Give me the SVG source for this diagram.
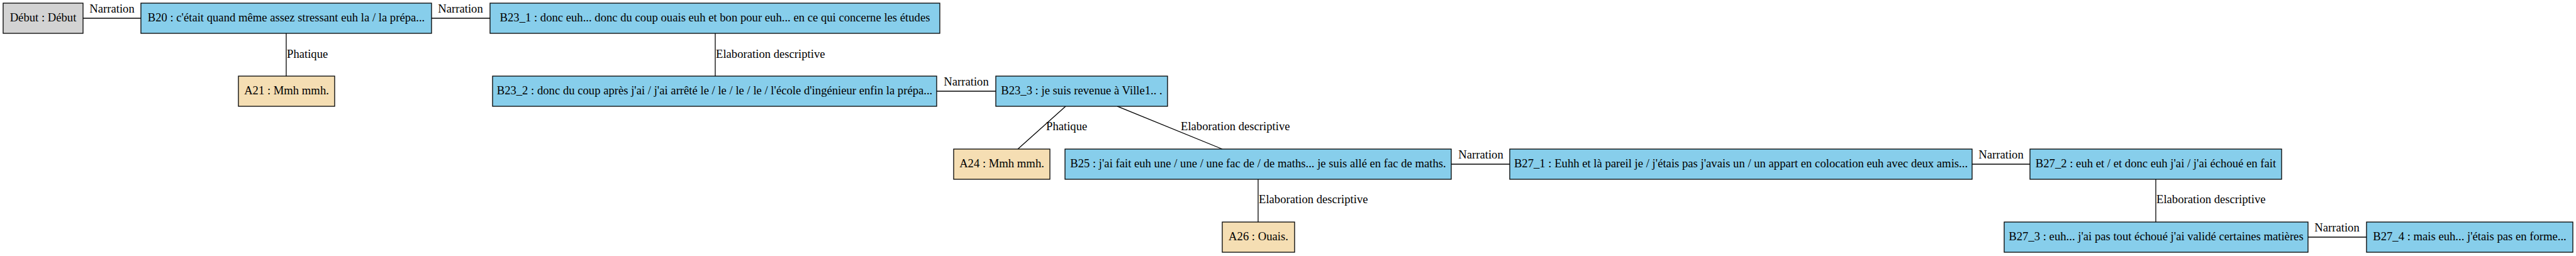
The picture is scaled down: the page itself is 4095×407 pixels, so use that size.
<svg xmlns="http://www.w3.org/2000/svg" width="4095" height="407" viewBox="0 0 4095 407">
<style>
text{font-family:"Liberation Serif","Times New Roman",serif;font-size:18.67px;fill:#000}
.n rect{stroke:#000;stroke-width:1.3}
.n text{text-anchor:middle}
.b rect{fill:#87ceeb}
.a rect{fill:#f5deb3}
.g rect{fill:#d3d3d3}
.e line{stroke:#000;stroke-width:1.3}
.lm{text-anchor:middle}
</style>
<rect width="4095" height="407" fill="#fff"/>
<g id="connectors" class="e">
<line x1="132" y1="29" x2="224" y2="29"/>
<line x1="686" y1="29" x2="779" y2="29"/>
<line x1="455" y1="53" x2="455" y2="121"/>
<line x1="1137" y1="53" x2="1137" y2="121"/>
<line x1="1489" y1="145" x2="1583" y2="145"/>
<line x1="1694" y1="169" x2="1618" y2="237"/>
<line x1="1776" y1="169" x2="1943" y2="237"/>
<line x1="2307" y1="261" x2="2400" y2="261"/>
<line x1="2000" y1="285" x2="2000" y2="353"/>
<line x1="3135" y1="261" x2="3227" y2="261"/>
<line x1="3427" y1="285" x2="3427" y2="353"/>
<line x1="3669" y1="377" x2="3762" y2="377"/>
<text class="lm" x="178" y="20">Narration</text>
<text class="lm" x="732" y="20">Narration</text>
<text x="456" y="92">Phatique</text>
<text x="1138" y="92">Elaboration descriptive</text>
<text class="lm" x="1536" y="136">Narration</text>
<text x="1663" y="207">Phatique</text>
<text x="1877" y="207">Elaboration descriptive</text>
<text class="lm" x="2354" y="252">Narration</text>
<text x="2001" y="323">Elaboration descriptive</text>
<text class="lm" x="3181" y="252">Narration</text>
<text x="3428" y="323">Elaboration descriptive</text>
<text class="lm" x="3715" y="368">Narration</text>
</g>
<g id="debut" class="n g"><rect x="5" y="5" width="127" height="48"/><text x="68.5" y="34">Début : Début</text></g>
<g id="B20" class="n b"><rect x="224" y="5" width="462" height="48"/><text x="455" y="34">B20 : c'était quand même assez stressant euh la / la prépa...</text></g>
<g id="B23_1" class="n b"><rect x="779" y="5" width="715" height="48"/><text x="1136.5" y="34">B23_1 : donc euh... donc du coup ouais euh et bon pour euh... en ce qui concerne les études</text></g>
<g id="A21" class="n a"><rect x="379" y="121" width="153" height="48"/><text x="455.5" y="150">A21 : Mmh mmh.</text></g>
<g id="B23_2" class="n b"><rect x="783" y="121" width="706" height="48"/><text x="1136" y="150">B23_2 : donc du coup après j'ai / j'ai arrêté le / le / le / le / l'école d'ingénieur enfin la prépa...</text></g>
<g id="B23_3" class="n b"><rect x="1583" y="121" width="273" height="48"/><text x="1719.5" y="150">B23_3 : je suis revenue à Ville1.. .</text></g>
<g id="A24" class="n a"><rect x="1516" y="237" width="153" height="48"/><text x="1592.5" y="266">A24 : Mmh mmh.</text></g>
<g id="B25" class="n b"><rect x="1693" y="237" width="614" height="48"/><text x="2000" y="266">B25 : j'ai fait euh une / une / une fac de / de maths... je suis allé en fac de maths.</text></g>
<g id="B27_1" class="n b"><rect x="2400" y="237" width="735" height="48"/><text x="2767.5" y="266">B27_1 : Euhh et là pareil je / j'étais pas j'avais un / un appart en colocation euh avec deux amis...</text></g>
<g id="B27_2" class="n b"><rect x="3227" y="237" width="400" height="48"/><text x="3427" y="266">B27_2 : euh et / et donc euh j'ai / j'ai échoué en fait</text></g>
<g id="A26" class="n a"><rect x="1943" y="353" width="115" height="48"/><text x="2000.5" y="382">A26 : Ouais.</text></g>
<g id="B27_3" class="n b"><rect x="3186" y="353" width="483" height="48"/><text x="3427.5" y="382">B27_3 : euh... j'ai pas tout échoué j'ai validé certaines matières</text></g>
<g id="B27_4" class="n b"><rect x="3762" y="353" width="328" height="48"/><text x="3926" y="382">B27_4 : mais euh... j'étais pas en forme...</text></g>
</svg>
